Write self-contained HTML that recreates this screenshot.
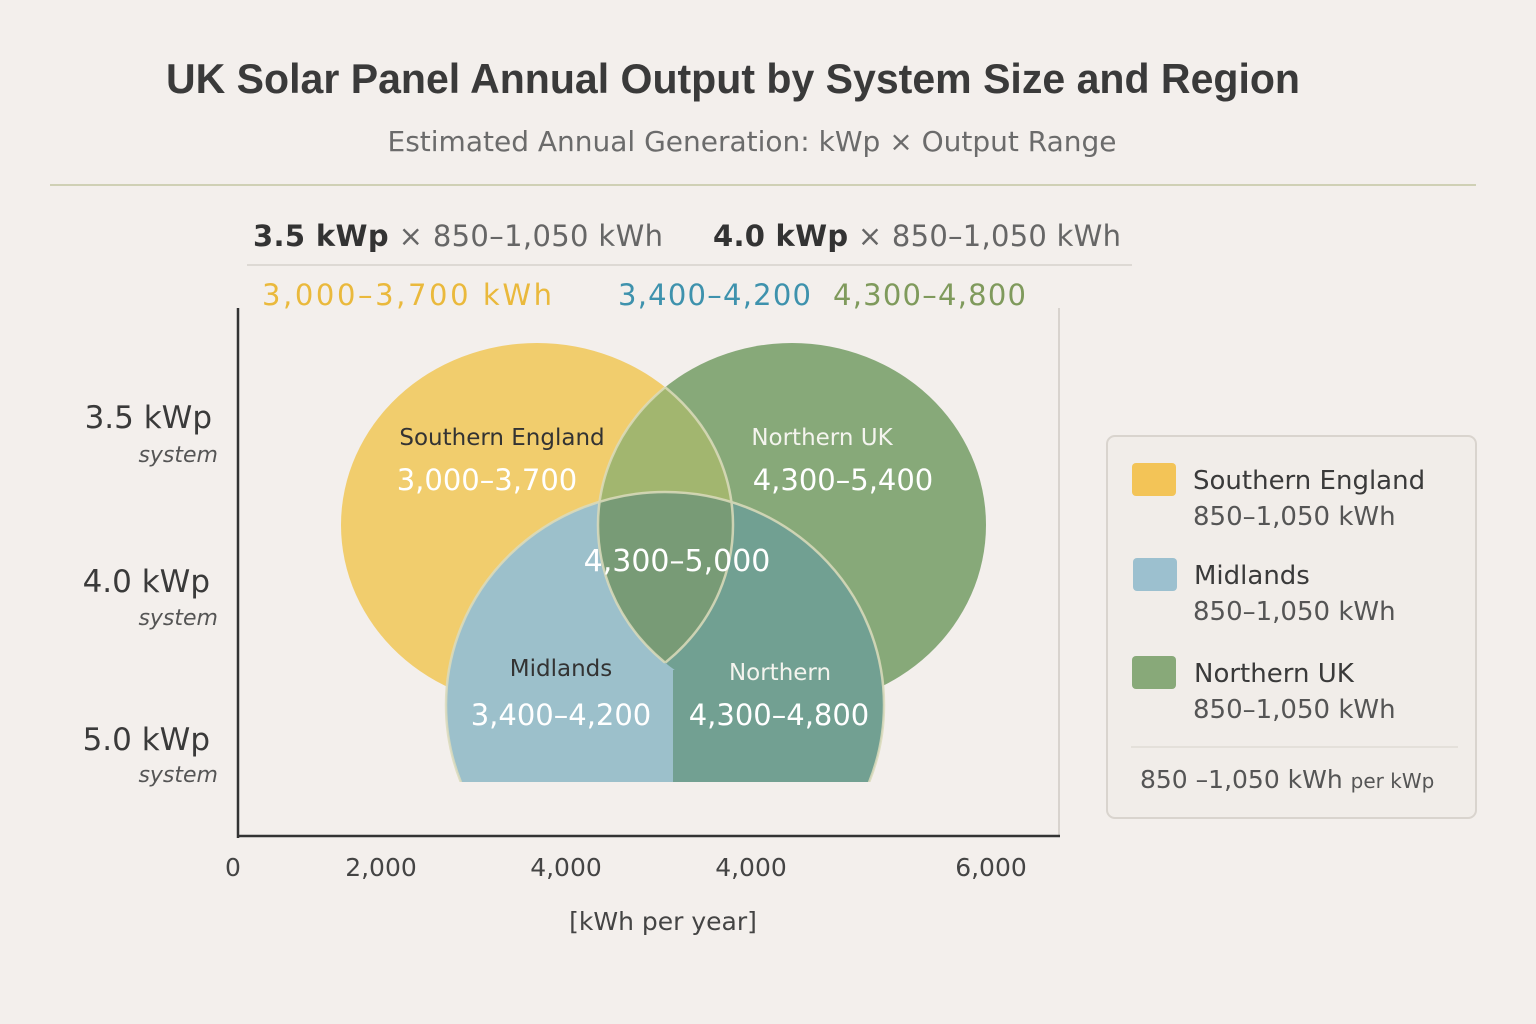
<!DOCTYPE html>
<html><head><meta charset="utf-8"><style>
html,body{margin:0;padding:0;background:#f3efeb;}
svg{display:block;font-family:"DejaVu Sans","Liberation Sans",sans-serif;}
</style></head><body>
<svg width="1536" height="1024" viewBox="0 0 1536 1024" xmlns="http://www.w3.org/2000/svg">
<defs>
<clipPath id="cy"><ellipse cx="537" cy="525" rx="196" ry="182"/></clipPath>
<clipPath id="cg"><ellipse cx="792" cy="525" rx="194" ry="182"/></clipPath>
<clipPath id="cb"><ellipse cx="665" cy="705" rx="219" ry="213"/></clipPath>
<clipPath id="cbot"><rect x="0" y="0" width="1536" height="782"/></clipPath>
</defs>
<rect width="1536" height="1024" fill="#f3efec"/>
<text x="166" y="93" textLength="1134" lengthAdjust="spacingAndGlyphs" font-size="42" font-weight="bold" fill="#3a3a3a" font-family="Liberation Sans, sans-serif">UK Solar Panel Annual Output by System Size and Region</text>
<text x="752" y="151" text-anchor="middle" font-size="28" fill="#6b6b6b">Estimated Annual Generation: kWp × Output Range</text>
<line x1="50" y1="185" x2="1476" y2="185" stroke="#cfd0b5" stroke-width="2"/>
<text x="253" y="246" font-size="29" fill="#666" textLength="410"><tspan font-weight="bold" fill="#333">3.5 kWp</tspan> × 850–1,050 kWh</text>
<text x="713" y="246" font-size="29" fill="#666" textLength="408"><tspan font-weight="bold" fill="#333">4.0 kWp</tspan> × 850–1,050 kWh</text>
<line x1="247" y1="265" x2="1132" y2="265" stroke="#d6d2cc" stroke-width="1.5"/>
<text x="262" y="305" font-size="29" fill="#eab93c" textLength="290">3,000–3,700  kWh</text>
<text x="618" y="305" font-size="29" fill="#3e92ad" textLength="193">3,400–4,200</text>
<text x="833" y="305" font-size="29" fill="#7f9a5c" textLength="193">4,300–4,800</text>
<line x1="1059" y1="308" x2="1059" y2="836" stroke="#cfcac4" stroke-width="1.5"/>
<line x1="238" y1="308" x2="238" y2="838" stroke="#333" stroke-width="2.5"/>
<line x1="237" y1="836" x2="1060" y2="836" stroke="#333" stroke-width="2.5"/>
<g font-size="31" fill="#3a3a3a" text-anchor="end">
<text x="212" y="428">3.5 kWp</text><text x="218" y="462" font-size="22" font-style="italic" fill="#555">system</text>
<text x="210" y="592">4.0 kWp</text><text x="218" y="625" font-size="22" font-style="italic" fill="#555">system</text>
<text x="210" y="750">5.0 kWp</text><text x="218" y="782" font-size="22" font-style="italic" fill="#555">system</text>
</g>
<g font-size="25" fill="#444" text-anchor="middle">
<text x="233" y="876">0</text><text x="381" y="876">2,000</text><text x="566" y="876">4,000</text><text x="751" y="876">4,000</text><text x="991" y="876">6,000</text>
<text x="663" y="930">[kWh per year]</text>
</g>
<ellipse cx="537" cy="525" rx="196" ry="182" fill="#f1cd6d"/>
<ellipse cx="792" cy="525" rx="194" ry="182" fill="#87a979"/>
<g clip-path="url(#cy)"><ellipse cx="792" cy="525" rx="194" ry="182" fill="#a2b66f"/></g>
<g clip-path="url(#cbot)">
<ellipse cx="665" cy="705" rx="219" ry="213" fill="#9cc0cb"/>
<g clip-path="url(#cb)">
<ellipse cx="792" cy="525" rx="194" ry="182" fill="#71a092"/>
<rect x="673" y="670" width="300" height="200" fill="#72a092"/>
<g clip-path="url(#cy)"><ellipse cx="792" cy="525" rx="194" ry="182" fill="#789b76"/></g>
</g>
</g>
<g fill="none" stroke="#dcdcbc" stroke-width="2.5" opacity="0.85">
<g clip-path="url(#cg)"><ellipse cx="537" cy="525" rx="196" ry="182"/></g>
<g clip-path="url(#cy)"><ellipse cx="792" cy="525" rx="194" ry="182"/></g>
<g clip-path="url(#cbot)"><ellipse cx="665" cy="705" rx="219" ry="213"/></g>
</g>
<rect x="430" y="782" width="470" height="50" fill="#f3efec"/>
<g text-anchor="middle">
<text x="502" y="445" font-size="23" fill="#333">Southern England</text>
<text x="487" y="490" font-size="29" fill="#fff">3,000–3,700</text>
<text x="822" y="445" font-size="23" fill="#f4f4ee">Northern UK</text>
<text x="843" y="490" font-size="29" fill="#fff">4,300–5,400</text>
<text x="677" y="571" font-size="30" fill="#fff">4,300–5,000</text>
<text x="561" y="676" font-size="23" fill="#333">Midlands</text>
<text x="561" y="725" font-size="29" fill="#fff">3,400–4,200</text>
<text x="780" y="680" font-size="23" fill="#f4f4ee">Northern</text>
<text x="779" y="725" font-size="29" fill="#fff">4,300–4,800</text>
</g>
<rect x="1107" y="436" width="369" height="382" rx="8" fill="#f1ede9" stroke="#d9d4ce" stroke-width="2"/>
<rect x="1132" y="463" width="44" height="33" rx="4" fill="#f3c457"/>
<rect x="1133" y="558" width="44" height="33" rx="4" fill="#9cc0cf"/>
<rect x="1132" y="656" width="44" height="33" rx="4" fill="#88a979"/>
<g font-size="26" fill="#3a3a3a">
<text x="1193" y="489">Southern England</text>
<text x="1193" y="525" fill="#555">850–1,050 kWh</text>
<text x="1194" y="584">Midlands</text>
<text x="1193" y="620" fill="#555">850–1,050 kWh</text>
<text x="1194" y="682">Northern UK</text>
<text x="1193" y="718" fill="#555">850–1,050 kWh</text>
</g>
<line x1="1131" y1="747" x2="1458" y2="747" stroke="#d6d2cc" stroke-width="1"/>
<text x="1140" y="788" font-size="25" fill="#555">850 –1,050 kWh <tspan font-size="20">per kWp</tspan></text>
</svg>
</body></html>
